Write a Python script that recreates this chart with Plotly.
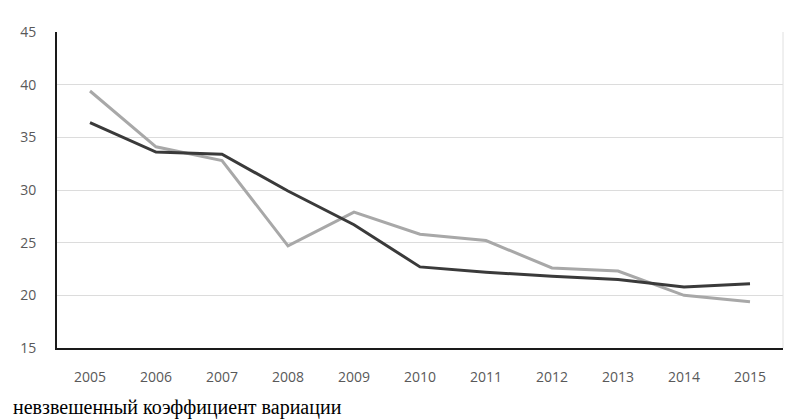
import plotly.graph_objects as go

years = ["2005", "2006", "2007", "2008", "2009", "2010", "2011", "2012", "2013", "2014", "2015"]
dark_series = [36.4, 33.6, 33.4, 29.9, 26.7, 22.7, 22.2, 21.8, 21.5, 20.8, 21.1]
light_series = [39.4, 34.1, 32.8, 24.7, 27.9, 25.8, 25.2, 22.6, 22.3, 20.0, 19.4]
y_ticks = [15, 20, 25, 30, 35, 40, 45]
caption = "невзвешенный коэффициент вариации"

fig = go.Figure()
fig.add_trace(go.Scatter(x=years, y=light_series, mode="lines",
                         line=dict(color="#a8a8a8", width=3), showlegend=False))
fig.add_trace(go.Scatter(x=years, y=dark_series, mode="lines",
                         line=dict(color="#3a3a3a", width=3), showlegend=False))

fig.update_layout(
    width=795, height=412,
    margin=dict(l=46, r=20, t=24, b=72),
    paper_bgcolor="white", plot_bgcolor="white",
    font=dict(family="Open Sans, Liberation Sans, sans-serif", size=14, color="#595959"),
    xaxis=dict(type="category", range=[-0.5, 10.5], showgrid=False,
               showline=True, linecolor="#1a1a1a", linewidth=2,
               ticks="", ticklabelstandoff=15, zeroline=False),
    yaxis=dict(range=[15, 45], tickvals=y_ticks, showgrid=True,
               gridcolor="#dcdcdc", gridwidth=1,
               showline=True, linecolor="#1a1a1a", linewidth=2,
               ticks="", ticklabelstandoff=16, zeroline=False),
    shapes=[dict(type="line", xref="paper", yref="paper", x0=1, x1=1, y0=0, y1=1,
                 line=dict(color="#e0e0e0", width=1))],
    annotations=[dict(text=caption, xref="paper", yref="paper",
                      x=-46/729, y=-46/316, xanchor="left", yanchor="top",
                      showarrow=False,
                      font=dict(family="Liberation Serif", size=20, color="#000000"))],
)

fig.write_html("out.html")
